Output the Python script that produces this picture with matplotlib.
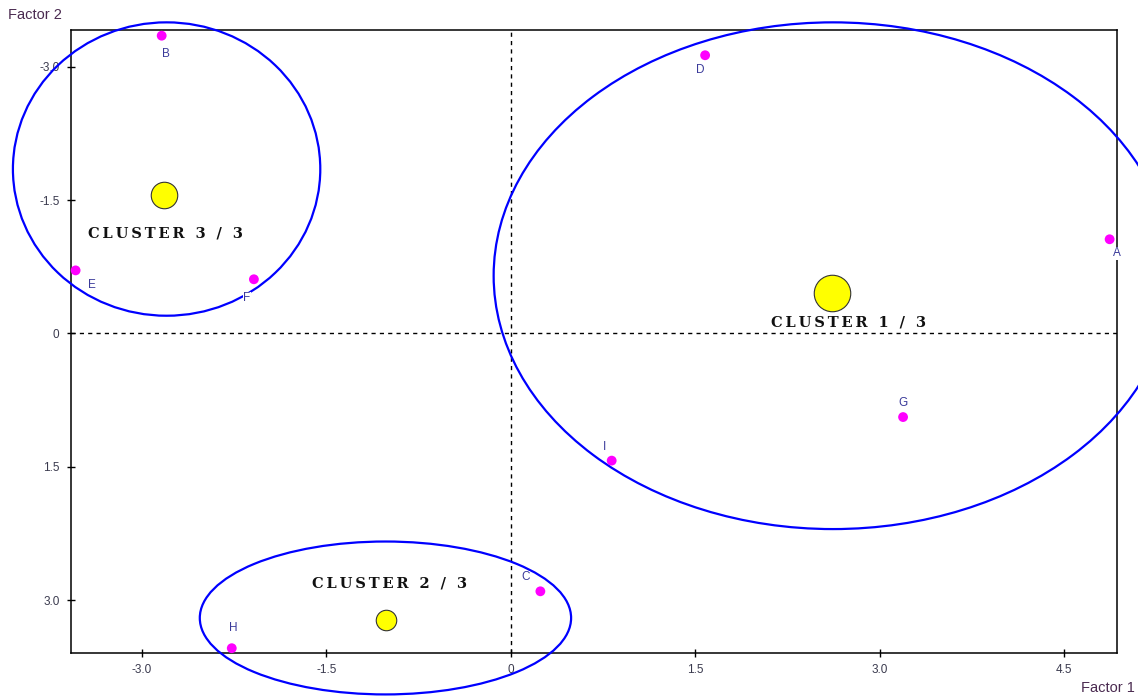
import matplotlib
matplotlib.use("Agg")
import matplotlib.pyplot as plt
from matplotlib.patches import Ellipse
import numpy as np

# Individuals on the first factorial plane
point_names = ["A", "B", "C", "D", "E", "F", "G", "H", "I"]
factor1 = [4.87, -2.84, 0.24, 1.58, -3.54, -2.09, 3.19, -2.27, 0.82]
factor2 = [-1.06, -3.35, 2.90, -3.13, -0.71, -0.61, 0.94, 3.54, 1.43]
cluster_of = [1, 3, 2, 1, 3, 3, 1, 2, 1]

# Cluster envelopes (centre x, centre y, half-width, half-height) in factor units
cluster_ids = [1, 2, 3]
cluster_titles = ["CLUSTER 1 / 3", "CLUSTER 2 / 3", "CLUSTER 3 / 3"]
env_cx = [2.62, -1.02, -2.80]
env_cy = [-0.65, 3.20, -1.85]
env_rx = [2.76, 1.51, 1.25]
env_ry = [2.85, 0.86, 1.65]

x_ticks = [-3.0, -1.5, 0.0, 1.5, 3.0, 4.5]
y_ticks = [-3.0, -1.5, 0.0, 1.5, 3.0]

W, H = 1138, 696
fig = plt.figure(figsize=(W / 100, H / 100), dpi=100)
fig.patch.set_facecolor("white")
ax = fig.add_axes([70.7 / W, 1 - 653 / H, (1117 - 70.7) / W, (653 - 30) / H])
ax.set_xlim(-3.58, 4.93)
ax.set_ylim(3.594, -3.414)

for s in ax.spines.values():
    s.set_linewidth(1.1)
    s.set_color("black")

tick_col = "#3a3a4e"
ax.set_xticks(x_ticks)
ax.set_yticks(y_ticks)
fmt = lambda v: "0" if v == 0 else f"{v:.1f}"
ax.set_xticklabels([fmt(v) for v in x_ticks])
ax.set_yticklabels([fmt(v) for v in y_ticks])
ax.tick_params(direction="inout", length=6, width=1, colors="black",
               labelcolor=tick_col, labelsize=8.5, pad=5,
               labelfontfamily="Liberation Sans")

# Axes through the origin
ax.axvline(0, color="black", lw=1, ls=(0, (3, 3)), zorder=1)
ax.axhline(0, color="black", lw=1, ls=(0, (3, 3)), zorder=1)

# Cluster envelopes
for cx, cy, rx, ry in zip(env_cx, env_cy, env_rx, env_ry):
    ax.add_patch(Ellipse((cx, cy), 2 * rx, 2 * ry, fill=False,
                         edgecolor="#0000ff", lw=1.6, clip_on=False, zorder=3))

# Individuals
ax.scatter(factor1, factor2, s=50, color="#ff00ff", edgecolor="none",
           zorder=5, clip_on=False)

label_off = {"A": (7, 14), "B": (4, 18), "C": (-15, -14), "D": (-5, 15),
             "E": (16, 15), "F": (-7, 19), "G": (0, -14), "H": (1, -20),
             "I": (-7, -14)}
for n, x, y in zip(point_names, factor1, factor2):
    dx, dy = label_off[n]
    ax.annotate(n, (x, y), xytext=(dx * 0.72, -dy * 0.72),
                textcoords="offset points", ha="center", va="center",
                fontsize=8.5, color="#3a3a9a", family="Liberation Sans",
                bbox=dict(boxstyle="square,pad=0.05", fc="white", ec="none"),
                zorder=6, annotation_clip=False)

# Cluster centroids (mean of member coordinates) and titles
f1 = np.array(factor1)
f2 = np.array(factor2)
memb = np.array(cluster_of)
centroid_diam = {1: 36.5, 2: 20.5, 3: 26.5}
title_off = {1: (16, 29), 2: (3, -36), 3: (2, 38)}
for cid, title in zip(cluster_ids, cluster_titles):
    gx = f1[memb == cid].mean()
    gy = f2[memb == cid].mean()
    d = centroid_diam[cid] * 0.72
    ax.plot([gx], [gy], "o", ms=d, mfc="#ffff00", mec="#333333", mew=0.8,
            zorder=7)
    dx, dy = title_off[cid]
    spaced = "\u2009".join(title)
    ax.annotate(spaced, (gx, gy), xytext=(dx * 0.72, -dy * 0.72),
                textcoords="offset points", ha="center", va="center",
                fontsize=10.5, fontweight="heavy", family="DejaVu Serif",
                color="#111111", zorder=8)

fig.text(8 / W, 1 - 15 / H, "Factor 2", ha="left", va="center",
         fontsize=10.5, color="#4a2a50", family="Liberation Sans")
fig.text(1135 / W, 1 - 688 / H, "Factor 1", ha="right", va="center",
         fontsize=10.5, color="#4a2a50", family="Liberation Sans")

fig.savefig("out.png", dpi=100)
